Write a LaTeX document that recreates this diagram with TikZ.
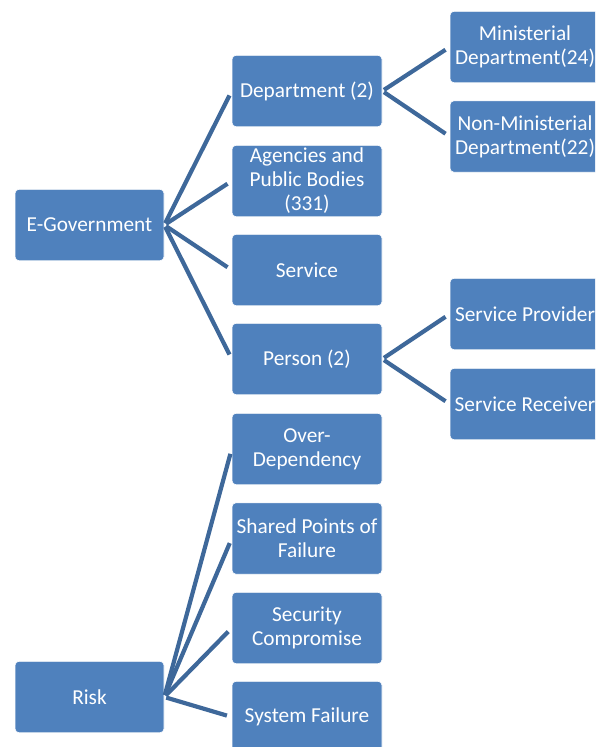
\documentclass[tikz,border=0pt]{standalone}
\usepackage{fontspec}
\setmainfont{Carlito}
\definecolor{boxblue}{RGB}{79,129,189}
\definecolor{linkblue}{RGB}{62,104,154}
\begin{document}
\begin{tikzpicture}[x=1pt,y=-1pt,
  box/.style={draw=white, line width=0.6pt, fill=boxblue, rounded corners=4pt,
    minimum width=150pt, minimum height=71.5pt, inner sep=1pt, align=center,
    text=white, font=\fontsize{21.3}{24}\selectfont},
  link/.style={draw=linkblue, line width=4.2pt, shorten <=2pt, shorten >=5pt}]
\useasboundingbox (0,0) rectangle (595,747);
\clip (0,0) rectangle (595,747);
% roots
\node[box, minimum width=149pt] (egov) at (89.5,225) {E-Government};
\node[box, minimum width=149pt] (risk) at (89.5,697) {Risk};
% second level
\node[box] (dept)   at (307,91)  {Department (2)};
\node[box] (agen)   at (307,181) {Agencies and\\Public Bodies\\(331)};
\node[box] (serv)   at (307,270) {Service};
\node[box] (pers)   at (307,359) {Person (2)};
\node[box] (over)   at (307,449) {Over-\\Dependency};
\node[box] (shared) at (307,538.5) {Shared Points of\\Failure};
\node[box] (sec)    at (307,628) {Security\\Compromise};
\node[box] (sysf)   at (307,717) {System Failure};
% third level
\node[box] (mini)   at (525,47)  {Ministerial\\Department(24)};
\node[box] (nonm)   at (525,136.5) {Non-Ministerial\\Department(22)};
\node[box] (prov)   at (525,314) {Service Provider};
\node[box] (recv)   at (525,404) {Service Receiver};
% connectors
\foreach \c in {dept,agen,serv,pers} \draw[link] (egov.east) -- (\c.west);
\foreach \c in {over,shared,sec,sysf} \draw[link] (risk.east) -- (\c.west);
\foreach \c in {mini,nonm} \draw[link] (dept.east) -- (\c.west);
\foreach \c in {prov,recv} \draw[link] (pers.east) -- (\c.west);
\end{tikzpicture}
\end{document}
